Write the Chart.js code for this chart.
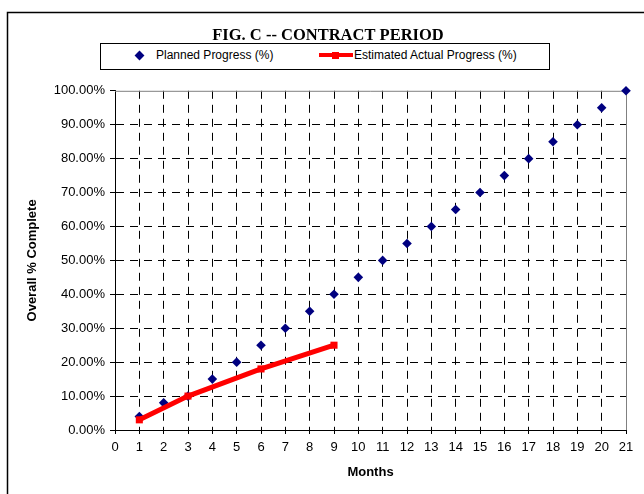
<!DOCTYPE html>
<html>
<head>
<meta charset="utf-8">
<title>Fig. C - Contract Period</title>
<script src="https://cdn.jsdelivr.net/npm/chart.js@4.4.1/dist/chart.umd.min.js"></script>
<style>
  html, body { margin: 0; padding: 0; background: #fff; }
  #area { position: relative; width: 644px; height: 494px; }
  #grafico-progresso { display: block; }
  #legenda {
    position: absolute; left: 100px; top: 43px; width: 450px; height: 27px;
    box-sizing: border-box; border: 1px solid #000; background: #fff;
    font: 12px Arial, "Liberation Sans", sans-serif; color: #000;
  }
  #legenda .texto { position: absolute; top: 4px; line-height: 14px; white-space: nowrap; }
  #legenda .marca { position: absolute; }
</style>
</head>
<body>
<div id="area">
  <canvas id="grafico-progresso" width="644" height="494"></canvas>
  <div id="legenda"></div>
</div>
<script>
/* ── Dados ───────────────────────────────────────────────────── */

/** Meses do contrato (eixo X) */
const meses = [1, 2, 3, 4, 5, 6, 7, 8, 9, 10, 11, 12, 13, 14, 15, 16, 17, 18, 19, 20, 21];

/** Progresso planejado (%) por mês */
const progressoPlanejado = [4, 8, 10, 15, 20, 25, 30, 35, 40, 45, 50, 55, 60, 65, 70, 75, 80, 85, 90, 95, 100];

/** Meses com medição do progresso real estimado */
const mesesReais = [1, 3, 6, 9];

/** Progresso real estimado (%) */
const progressoReal = [3, 10, 18, 25];

const FONTE = 'Arial, "Liberation Sans", sans-serif';
const TRANSPARENTE = 'rgba(0,0,0,0)';
const TRACO_GRADE = [8, 6];

/* ── Plugins de desenho ─────────────────────────────────────── */

/** Fundo branco e moldura externa (cortada à direita e embaixo, como no original) */
const moldura = {
  id: 'moldura',
  beforeDraw(chart) {
    const { ctx } = chart;
    ctx.save();
    ctx.fillStyle = '#fff';
    ctx.fillRect(0, 0, chart.width, chart.height);
    ctx.strokeStyle = '#000';
    ctx.lineWidth = 1.5;
    ctx.strokeRect(7.5, 12.5, chart.width + 20, chart.height + 20);
    ctx.restore();
  },
};

/** Borda cinza do topo e da direita da área de plotagem */
const bordaArea = {
  id: 'bordaArea',
  beforeDatasetsDraw(chart) {
    const { ctx, chartArea: a } = chart;
    ctx.save();
    ctx.strokeStyle = '#808080';
    ctx.lineWidth = 1;
    ctx.beginPath();
    ctx.moveTo(a.left, a.top + 0.5);
    ctx.lineTo(a.right + 0.5, a.top + 0.5);
    ctx.lineTo(a.right + 0.5, a.bottom);
    ctx.stroke();
    ctx.restore();
  },
};

/* ── Gráfico ────────────────────────────────────────────────── */

const ctx = document.getElementById('grafico-progresso').getContext('2d');

const grafico = new Chart(ctx, {
  type: 'line',
  data: {
    datasets: [
      {
        label: 'Planned Progress (%)',
        data: meses.map((m, i) => ({ x: m, y: progressoPlanejado[i] })),
        showLine: false,
        pointStyle: 'rectRot',
        pointRadius: 4.8,
        pointBackgroundColor: '#000080',
        pointBorderColor: '#000080',
        pointBorderWidth: 0,
        order: 1,
        clip: false,
      },
      {
        label: 'Estimated Actual Progress (%)',
        data: mesesReais.map((m, i) => ({ x: m, y: progressoReal[i] })),
        borderColor: '#ff0000',
        borderWidth: 5,
        tension: 0,
        pointStyle: 'rect',
        pointRadius: 5,
        pointBackgroundColor: '#ff0000',
        pointBorderColor: '#ff0000',
        pointBorderWidth: 0,
        order: 0,
        clip: false,
      },
    ],
  },
  options: {
    responsive: false,
    animation: false,
    layout: { padding: { left: 30, right: 18, top: 0, bottom: 0 } },
    plugins: {
      legend: { display: false },
      tooltip: { enabled: false },
      title: {
        display: true,
        text: 'FIG. C -- CONTRACT PERIOD',
        color: '#000',
        font: { family: '"Times New Roman", "Liberation Serif", serif', size: 16.5, weight: 'bold' },
        padding: { top: 26, bottom: 45 },
      },
    },
    scales: {
      x: {
        type: 'linear',
        min: 0,
        max: 21,
        ticks: { stepSize: 1, autoSkip: false, maxRotation: 0, color: '#000', padding: 6, font: { family: FONTE, size: 13 } },
        grid: {
          color: c => (c.tick && (c.tick.value === 0 || c.tick.value === 21)) ? TRANSPARENTE : '#000',
          tickColor: '#000',
          tickLength: 4,
        },
        border: { color: '#000', width: 1, dash: TRACO_GRADE },
        title: {
          display: true,
          text: 'Months',
          color: '#000',
          font: { family: FONTE, size: 13, weight: 'bold' },
          padding: { top: 0, bottom: 14 },
        },
        afterFit(scale) { scale.height = 64; },
      },
      y: {
        min: 0,
        max: 100,
        ticks: {
          stepSize: 10,
          color: '#000',
          padding: 5,
          font: { family: FONTE, size: 13 },
          callback: v => `${v.toFixed(2)}%`,
        },
        grid: {
          color: c => (c.tick && (c.tick.value === 0 || c.tick.value === 100)) ? TRANSPARENTE : '#000',
          tickColor: '#000',
          tickLength: 5,
        },
        border: { color: '#000', width: 1, dash: TRACO_GRADE },
        title: {
          display: true,
          text: 'Overall % Complete',
          color: '#000',
          font: { family: FONTE, size: 13, weight: 'bold', lineHeight: 1 },
          padding: { top: -4, bottom: 0 },
        },
        afterFit(scale) { scale.width = 85; },
      },
    },
  },
  plugins: [moldura, bordaArea],
});

/* ── Legenda em HTML ────────────────────────────────────────── */

/**
 * Monta a legenda com borda a partir dos datasets do gráfico.
 * Posições relativas à caixa da legenda.
 */
function renderizarLegenda(chart) {
  const caixa = document.getElementById('legenda');
  caixa.innerHTML = '';
  const posTexto = [55, 253];

  chart.data.datasets.forEach((ds, i) => {
    if (i === 0) {
      const losango = document.createElement('div');
      losango.className = 'marca';
      Object.assign(losango.style, {
        left: '34.5px', top: '8px', width: '7px', height: '7px',
        background: ds.pointBackgroundColor, transform: 'rotate(45deg)',
      });
      caixa.appendChild(losango);
    } else {
      const linha = document.createElement('div');
      linha.className = 'marca';
      Object.assign(linha.style, {
        left: '218px', top: '9px', width: '34px', height: '4px', background: ds.borderColor,
      });
      const quadrado = document.createElement('div');
      quadrado.className = 'marca';
      Object.assign(quadrado.style, {
        left: '231px', top: '7.5px', width: '7px', height: '7px', background: ds.pointBackgroundColor,
      });
      caixa.appendChild(linha);
      caixa.appendChild(quadrado);
    }
    const texto = document.createElement('span');
    texto.className = 'texto';
    texto.style.left = `${posTexto[i]}px`;
    texto.textContent = ds.label;
    caixa.appendChild(texto);
  });
}

renderizarLegenda(grafico);
</script>
</body>
</html>
